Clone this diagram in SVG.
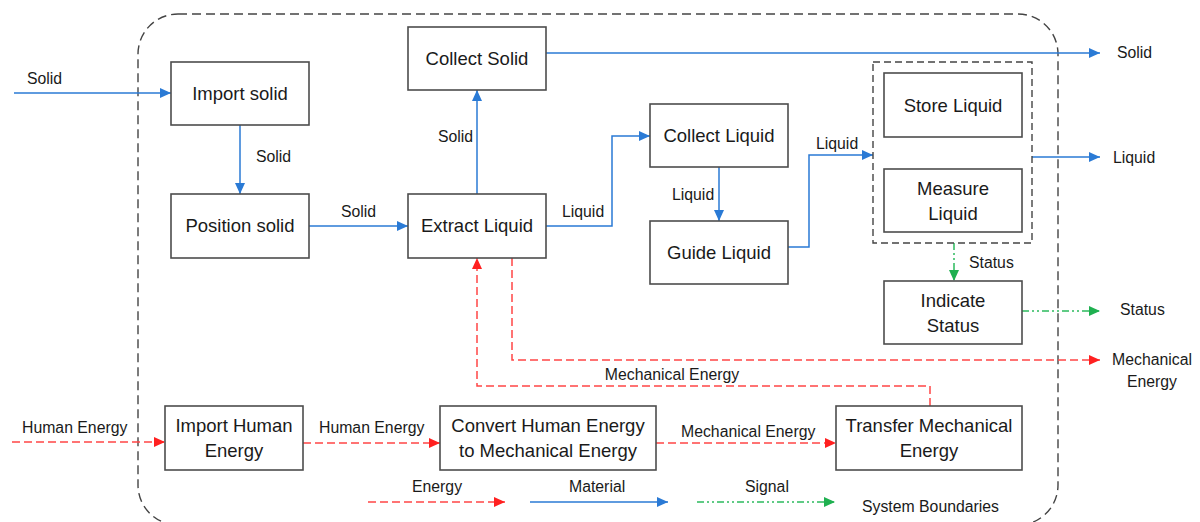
<svg xmlns="http://www.w3.org/2000/svg" width="1200" height="522" viewBox="0 0 1200 522">
<style>
.box{fill:#fff;stroke:#4d4d4d;stroke-width:1.6}
.t{font-family:"Liberation Sans",Arial,sans-serif;font-size:18.5px;fill:#1a1a1a;text-anchor:middle}
.l{font-family:"Liberation Sans",Arial,sans-serif;font-size:15.8px;fill:#1a1a1a}
.m{fill:none;stroke:#2a7ad5;stroke-width:1.5}
.e{fill:none;stroke:#ff4545;stroke-width:1.5;stroke-dasharray:8 4}
.s{fill:none;stroke:#2dbb5e;stroke-width:1.5;stroke-dasharray:7 3 2 3 2 3}
.bd{fill:none;stroke:#444;stroke-width:1.4;stroke-dasharray:9 5}
</style>
<defs>
<marker id="ab" markerUnits="userSpaceOnUse" markerWidth="12" markerHeight="10" refX="11" refY="5" orient="auto"><path d="M0,0 L11,5 L0,10 Z" fill="#2a7ad5"/></marker>
<marker id="ar" markerUnits="userSpaceOnUse" markerWidth="12" markerHeight="10" refX="11" refY="5" orient="auto"><path d="M0,0 L11,5 L0,10 Z" fill="#ff2020"/></marker>
<marker id="ag" markerUnits="userSpaceOnUse" markerWidth="12" markerHeight="10" refX="11" refY="5" orient="auto"><path d="M0,0 L11,5 L0,10 Z" fill="#1fb050"/></marker>
</defs>

<g id="boundary">
<rect class="bd" x="138" y="14" width="920" height="511" rx="40" ry="40"/>
</g>

<g id="connectors">
<path class="m" d="M14,93 H171" marker-end="url(#ab)"/>
<path class="m" d="M240,125 V194" marker-end="url(#ab)"/>
<path class="m" d="M309,226 H408" marker-end="url(#ab)"/>
<path class="m" d="M477,194 V90" marker-end="url(#ab)"/>
<path class="m" d="M546,53 H1100" marker-end="url(#ab)"/>
<path class="m" d="M546,226 H612 V136 H650" marker-end="url(#ab)"/>
<path class="m" d="M719,167 V221" marker-end="url(#ab)"/>
<path class="m" d="M788,247 H809 V155 H873" marker-end="url(#ab)"/>
<path class="m" d="M1032,157 H1100" marker-end="url(#ab)"/>
<path class="s" d="M954,243 V281" marker-end="url(#ag)"/>
<path class="s" d="M1022,311 H1100" marker-end="url(#ag)"/>
<path class="e" d="M512,258 V360 H1100" marker-end="url(#ar)"/>
<path class="e" d="M930,406 V386 H477 V258" marker-end="url(#ar)"/>
<path class="e" d="M12,442 H165" marker-end="url(#ar)"/>
<path class="e" d="M303,443 H440" marker-end="url(#ar)"/>
<path class="e" d="M656,443 H836" marker-end="url(#ar)"/>
<path class="e" d="M368,502 H505" marker-end="url(#ar)"/>
<path class="m" d="M530,502 H668" marker-end="url(#ab)"/>
<path class="s" d="M697,502 H835" marker-end="url(#ag)"/>
</g>

<g id="connector-labels">
<text class="l" x="27" y="84">Solid</text>
<text class="l" x="256" y="162">Solid</text>
<text class="l" x="341" y="217">Solid</text>
<text class="l" x="438" y="142">Solid</text>
<text class="l" x="562" y="217">Liquid</text>
<text class="l" x="672" y="200">Liquid</text>
<text class="l" x="816" y="149">Liquid</text>
<text class="l" x="1117" y="58">Solid</text>
<text class="l" x="1113" y="163">Liquid</text>
<text class="l" x="969" y="268">Status</text>
<text class="l" x="1120" y="315">Status</text>
<text class="l" x="1152" y="365" text-anchor="middle">Mechanical</text>
<text class="l" x="1152" y="387" text-anchor="middle">Energy</text>
<text class="l" x="672" y="380" text-anchor="middle">Mechanical Energy</text>
<text class="l" x="22" y="433">Human Energy</text>
<text class="l" x="319" y="433">Human Energy</text>
<text class="l" x="681" y="437">Mechanical Energy</text>
<text class="l" x="412" y="492">Energy</text>
<text class="l" x="569" y="492">Material</text>
<text class="l" x="745" y="492">Signal</text>
<text class="l" x="862" y="512">System Boundaries</text>
</g>

<g id="import-solid"><rect class="box" x="171" y="62" width="138" height="63"/><text class="t" x="240" y="100">Import solid</text></g>
<g id="position-solid"><rect class="box" x="171" y="194" width="138" height="64"/><text class="t" x="240" y="232">Position solid</text></g>
<g id="collect-solid"><rect class="box" x="408" y="27" width="138" height="63"/><text class="t" x="477" y="65">Collect Solid</text></g>
<g id="extract-liquid"><rect class="box" x="408" y="194" width="138" height="64"/><text class="t" x="477" y="232">Extract Liquid</text></g>
<g id="collect-liquid"><rect class="box" x="650" y="104" width="138" height="63"/><text class="t" x="719" y="142">Collect Liquid</text></g>
<g id="guide-liquid"><rect class="box" x="650" y="221" width="138" height="63"/><text class="t" x="719" y="259">Guide Liquid</text></g>
<g id="storage-group"><rect class="bd" x="873" y="62" width="159" height="181" style="stroke-dasharray:7 4"/></g>
<g id="store-liquid"><rect class="box" x="884" y="73" width="138" height="64"/><text class="t" x="953" y="112">Store Liquid</text></g>
<g id="measure-liquid"><rect class="box" x="884" y="169" width="138" height="63"/><text class="t" x="953" y="195">Measure</text><text class="t" x="953" y="220">Liquid</text></g>
<g id="indicate-status"><rect class="box" x="884" y="281" width="138" height="63"/><text class="t" x="953" y="307">Indicate</text><text class="t" x="953" y="332">Status</text></g>
<g id="import-human-energy"><rect class="box" x="165" y="406" width="138" height="64"/><text class="t" x="234" y="432">Import Human</text><text class="t" x="234" y="457">Energy</text></g>
<g id="convert-energy"><rect class="box" x="440" y="406" width="216" height="64"/><text class="t" x="548" y="432">Convert Human Energy</text><text class="t" x="548" y="457">to Mechanical Energy</text></g>
<g id="transfer-mechanical-energy"><rect class="box" x="836" y="406" width="186" height="64"/><text class="t" x="929" y="432">Transfer Mechanical</text><text class="t" x="929" y="457">Energy</text></g>
</svg>
